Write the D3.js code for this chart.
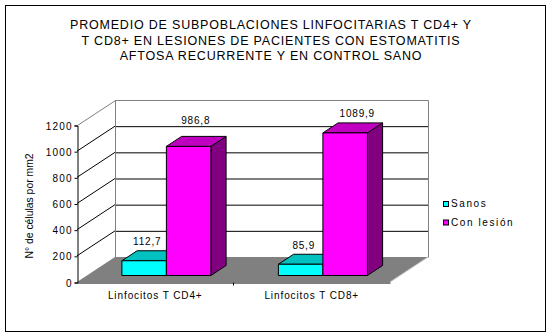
<!DOCTYPE html>
<html><head><meta charset="utf-8">
<script src="https://cdn.jsdelivr.net/npm/d3@7"></script>
<style>
html,body{margin:0;padding:0;background:#fff;}
svg{display:block;font-family:"Liberation Sans",Arial,sans-serif;}
</style></head>
<body>
<script>
const titleLines = ["PROMEDIO DE SUBPOBLACIONES LINFOCITARIAS T CD4+ Y","T CD8+ EN LESIONES DE PACIENTES CON ESTOMATITIS","AFTOSA RECURRENTE Y EN CONTROL SANO"];
const categories = ["Linfocitos T CD4+","Linfocitos T CD8+"];
const seriesNames = ["Sanos","Con lesión"];
const sanos = [112.7, 85.9];
const conLesion = [986.8, 1089.9];
const yTicks = [0,200,400,600,800,1000,1200];
const yTitle = "N° de células por mm2";

const W=551,H=336;
const svg=d3.select("body").append("svg").attr("width",W).attr("height",H);

// frame
svg.append("rect").attr("x",5.5).attr("y",5.5).attr("width",540).attr("height",326)
  .attr("fill","#fff").attr("stroke","#000").attr("stroke-width",1);

// title
svg.append("g").selectAll("text").data(titleLines).join("text")
  .attr("x",271).attr("y",(d,i)=>28.8+i*15.8).attr("text-anchor","middle")
  .attr("font-size",12.5).attr("letter-spacing",0.8).attr("fill","#000").text(d=>d);

// geometry
const x0=77,x1=390,DX=38,DY=25;
const y=d3.scaleLinear().domain([0,1200]).range([282,125]);
const x=d3.scaleBand().domain(categories).range([x0,x1]).paddingInner(0).paddingOuter(0);
const xs=d3.scaleBand().domain(seriesNames).range([0,x.bandwidth()]).paddingInner(0).paddingOuter(0.758);
const colors={ "Sanos":{front:"#00FFFF",top:"#00C0C0",side:"#008080"},
               "Con lesión":{front:"#FF00FF",top:"#C000C0",side:"#800080"} };
const P=(px,py,f)=>[px+DX*f,py-DY*f];

const g=svg.append("g");
// back wall
g.append("rect").attr("x",x0+DX).attr("y",y(1200)-DY).attr("width",x1-x0).attr("height",y(0)-y(1200))
  .attr("fill","#fff");
// gridlines back wall + left wall
const gridT=yTicks.filter(v=>v>0 && v<1200);
g.selectAll(".gb").data(gridT).join("line")
  .attr("x1",x0+DX).attr("x2",x1+DX).attr("y1",d=>y(d)-DY+0.5).attr("y2",d=>y(d)-DY+0.5)
  .attr("stroke","#000").attr("stroke-width",1);
g.selectAll(".gl").data(gridT).join("line")
  .attr("x1",x0).attr("y1",d=>y(d)).attr("x2",x0+DX).attr("y2",d=>y(d)-DY)
  .attr("stroke","#000").attr("stroke-width",1);
// wall edges (gray)
const gray="#808080";
g.append("path").attr("d",d3.line()([[x0,y(1200)],[x0+DX,y(1200)-DY],[x1+DX,y(1200)-DY],[x1+DX,y(0)-DY]]))
  .attr("fill","none").attr("stroke",gray).attr("stroke-width",1).attr("transform","translate(0.5,0.5)");
g.append("line").attr("x1",x0+DX+0.5).attr("x2",x0+DX+0.5).attr("y1",y(1200)-DY).attr("y2",y(0)-DY)
  .attr("stroke",gray);
// floor
g.append("path").attr("d",d3.line()([[x0,y(0)],[x1,y(0)],[x1+DX,y(0)-DY],[x0+DX,y(0)-DY]])+"Z")
  .attr("fill","#808080").attr("stroke","none");
g.append("line").attr("x1",x1).attr("y1",y(0)).attr("x2",x1+DX).attr("y2",y(0)-DY)
  .attr("stroke","#c0c0c0");

// y axis
const yAxis=d3.axisLeft(y).tickValues(yTicks).tickSize(3).tickFormat(d3.format("d"));
const ya=svg.append("g").attr("transform",`translate(${x0+0.5},0.5)`).call(yAxis);
ya.select(".domain").attr("stroke","#000");
ya.selectAll(".tick line").attr("stroke","#000");
ya.selectAll(".tick text").attr("font-size",10).attr("font-family","Liberation Sans, Arial, sans-serif")
  .attr("fill","#000").attr("x",-6).attr("letter-spacing",1.2).attr("dy","0.36em");
ya.selectAll(".tick text").attr("dx",1.2);

// x axis
const xAxis=d3.axisBottom(x).tickSize(0).tickSizeOuter(0);
const xa=svg.append("g").attr("transform",`translate(0,${y(0)+0.5})`).call(xAxis);
xa.select(".domain").attr("stroke","#000");
xa.selectAll(".tick text").attr("font-size",10).attr("font-family","Liberation Sans, Arial, sans-serif")
  .attr("fill","#000").attr("y",9).attr("dy","0.71em").attr("letter-spacing",0.9);
// category divider tick
xa.append("line").attr("x1",x(categories[1])).attr("x2",x(categories[1])).attr("y1",0).attr("y2",3).attr("stroke","#000");

// bars
const fF=0.28,fB=0.68;
const data=[];
categories.forEach((c,i)=>{
  seriesNames.forEach((s,j)=>{
    data.push({cat:c,ser:s,val:(j===0?sanos:conLesion)[i],i,j});
  });
});
const bars=svg.append("g");
data.forEach(d=>{
  const bx=x(d.cat)+xs(d.ser), bw=xs.bandwidth();
  const yt=y(d.val), yb=y(0);
  const c=colors[d.ser];
  const A=P(bx,yb,fF),B=P(bx+bw,yb,fF),C=P(bx+bw,yt,fF),D=P(bx,yt,fF);
  const Bb=P(bx+bw,yb,fB),Cb=P(bx+bw,yt,fB),Db=P(bx,yt,fB);
  const gg=bars.append("g").attr("transform","translate(0.5,0.5)");
  gg.append("path").attr("d",d3.line()([B,Bb,Cb,C])+"Z").attr("fill",c.side).attr("stroke","#000");
  gg.append("path").attr("d",d3.line()([D,C,Cb,Db])+"Z").attr("fill",c.top).attr("stroke","#000");
  gg.append("path").attr("d",d3.line()([A,B,C,D])+"Z").attr("fill",c.front).attr("stroke","#000");
});

// value labels
const fmt=v=>d3.format(".1f")(v).replace(".",",");
const labelNudge=[[-4,0],[0,-7],[-4,0],[5,0]];
svg.append("g").selectAll("text").data(data).join("text")
  .attr("x",(d,k)=>{const bx=x(d.cat)+xs(d.ser)+xs.bandwidth()/2; return P(bx,0,(fF+fB)/2)[0]+labelNudge[k][0];})
  .attr("y",(d,k)=>P(0,y(d.val),fB)[1]-5+labelNudge[k][1])
  .attr("text-anchor","middle").attr("font-size",10).attr("letter-spacing",0.8).attr("fill","#000")
  .text(d=>fmt(d.val));

// y title
svg.append("text").attr("transform","translate(33,206) rotate(-90)").attr("text-anchor","middle")
  .attr("font-size",10.4).attr("fill","#000").text(yTitle);

// legend
const lg=svg.append("g");
seriesNames.forEach((s,j)=>{
  lg.append("rect").attr("x",443.5).attr("y",201.5+j*18.5).attr("width",5).attr("height",5)
    .attr("fill",colors[s].front).attr("stroke","#000");
  lg.append("text").attr("x",451).attr("y",207+j*18.5).attr("font-size",10).attr("letter-spacing",1.6)
    .attr("fill","#000").text(s);
});
</script>
</body></html>
